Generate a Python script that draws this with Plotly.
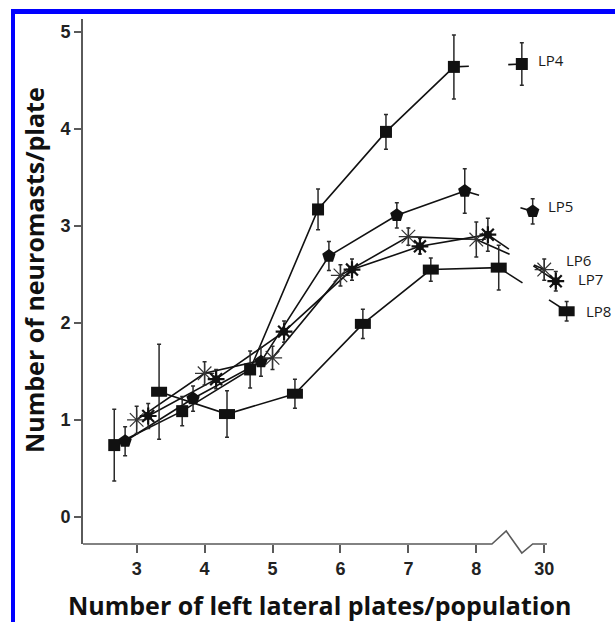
import plotly.graph_objects as go

# Axis categories: plate counts 3..8, with the fully plated "30" group placed at 9
tick_vals = [3, 4, 5, 6, 7, 8, 9]
tick_text = ["3", "4", "5", "6", "7", "8", "30"]

# Mean neuromasts per plate (± error) for each lateral plate position, by population
lp4_x = [2.67, 3.67, 4.67, 5.67, 6.67, 7.67, 8.67]
lp4_y = [0.74, 1.09, 1.52, 3.17, 3.97, 4.64, 4.67]
lp4_err = [0.37, 0.15, 0.19, 0.21, 0.18, 0.33, 0.22]

lp5_x = [2.83, 3.83, 4.83, 5.83, 6.83, 7.83, 8.83]
lp5_y = [0.78, 1.22, 1.60, 2.69, 3.11, 3.36, 3.15]
lp5_err = [0.15, 0.13, 0.15, 0.15, 0.13, 0.23, 0.13]

lp6_x = [3.00, 4.00, 5.00, 6.00, 7.00, 8.00, 9.00]
lp6_y = [1.00, 1.48, 1.64, 2.49, 2.89, 2.86, 2.55]
lp6_err = [0.14, 0.12, 0.12, 0.11, 0.09, 0.18, 0.11]

lp7_x = [3.17, 4.17, 5.17, 6.17, 7.17, 8.17, 9.17]
lp7_y = [1.04, 1.42, 1.91, 2.55, 2.79, 2.91, 2.43]
lp7_err = [0.13, 0.10, 0.11, 0.11, 0.08, 0.17, 0.10]

lp8_x = [3.33, 4.33, 5.33, 6.33, 7.33, 8.33, 9.33]
lp8_y = [1.29, 1.06, 1.27, 1.99, 2.55, 2.57, 2.12]
lp8_err = [0.49, 0.24, 0.15, 0.15, 0.12, 0.23, 0.10]

series_names = ["LP4", "LP5", "LP6", "LP7", "LP8"]

# ---- layout geometry (pixels) ----
W, H = 615, 622
ML, MR, MT, MB = 83, 30, 19, 78
PW, PH = W - ML - MR, H - MT - MB
X_RANGE = [2.21, 9.60]
Y_RANGE = [-0.28, 5.134]


def xpaper_from_px(px):
    return (px - ML) / PW


def ypaper_from_px(py):
    return (H - MB - py) / PH


def xpaper_from_data(v):
    return (v - X_RANGE[0]) / (X_RANGE[1] - X_RANGE[0])


INK = "#111111"
AXIS = "#5a5a5a"

# break-in-line stubs: fraction of the 8 -> 30 segment kept at each end
stub_frac = {"LP4": (0.22, 0.80), "LP5": (0.21, 0.82), "LP6": (0.49, 0.85),
             "LP7": (0.31, 0.67), "LP8": (0.35, 0.74)}

series = {
    "LP4": (lp4_x, lp4_y, lp4_err),
    "LP5": (lp5_x, lp5_y, lp5_err),
    "LP6": (lp6_x, lp6_y, lp6_err),
    "LP7": (lp7_x, lp7_y, lp7_err),
    "LP8": (lp8_x, lp8_y, lp8_err),
}

fig = go.Figure()

# connecting lines (main run plus the broken segment toward the "30" group)
for name in series_names:
    xs, ys, _ = series[name]
    fig.add_trace(go.Scatter(x=xs[:6], y=ys[:6], mode="lines",
                             line=dict(color=INK, width=1.6),
                             hoverinfo="skip", showlegend=False, cliponaxis=False))
    a, b = stub_frac[name]
    x0, y0, x1, y1 = xs[5], ys[5], xs[6], ys[6]
    for f0, f1 in ((0.0, a), (b, 1.0)):
        fig.add_trace(go.Scatter(
            x=[x0 + f0 * (x1 - x0), x0 + f1 * (x1 - x0)],
            y=[y0 + f0 * (y1 - y0), y0 + f1 * (y1 - y0)],
            mode="lines", line=dict(color=INK, width=1.6),
            hoverinfo="skip", showlegend=False, cliponaxis=False))


def err(vals):
    return dict(type="data", array=vals, visible=True, color="#2a2a2a",
                thickness=1.5, width=2)


# LP4: filled squares
fig.add_trace(go.Scatter(x=lp4_x, y=lp4_y, mode="markers", error_y=err(lp4_err),
                         marker=dict(symbol="square", size=12, color=INK),
                         name="LP4", showlegend=False, cliponaxis=False))
# LP5: filled pentagons
fig.add_trace(go.Scatter(x=lp5_x, y=lp5_y, mode="markers", error_y=err(lp5_err),
                         marker=dict(symbol="pentagon", size=14, color=INK),
                         name="LP5", showlegend=False, cliponaxis=False))
# LP6: thin open asterisks
fig.add_trace(go.Scatter(x=lp6_x, y=lp6_y, mode="markers", error_y=err(lp6_err),
                         marker=dict(symbol="asterisk-open", size=16, color="#333333",
                                     line=dict(color="#333333", width=1.2)),
                         name="LP6", showlegend=False, cliponaxis=False))
# LP7: heavy starburst
fig.add_trace(go.Scatter(x=lp7_x, y=lp7_y, mode="markers", error_y=err(lp7_err),
                         marker=dict(symbol="asterisk-open", size=14, color=INK,
                                     line=dict(color=INK, width=2.2)),
                         name="LP7", showlegend=False, cliponaxis=False))
fig.add_trace(go.Scatter(x=lp7_x, y=lp7_y, mode="markers",
                         marker=dict(symbol="circle", size=8, color=INK),
                         hoverinfo="skip", showlegend=False, cliponaxis=False))
# LP8: error bars here, wide rectangles added as pixel-sized shapes below
fig.add_trace(go.Scatter(x=lp8_x, y=lp8_y, mode="markers", error_y=err(lp8_err),
                         marker=dict(symbol="square", size=2, color=INK),
                         name="LP8", showlegend=False, cliponaxis=False))

shapes = []
for xv, yv in zip(lp8_x, lp8_y):
    shapes.append(dict(type="rect", xref="x", yref="y", layer="above",
                       xsizemode="pixel", ysizemode="pixel",
                       xanchor=xv, yanchor=yv, x0=-8, x1=8, y0=-5, y1=5,
                       fillcolor=INK, line=dict(width=0)))

# x axis baseline with the break zig-zag before the "30" group
ax_y = ypaper_from_px(H - MB)
zig = [(X_RANGE[0], ax_y), (8.23, ax_y), (8.44, ypaper_from_px(H - MB - 13)),
       (8.67, ypaper_from_px(H - MB + 9)), (8.83, ax_y), (9.04, ax_y)]
path = "M " + " L ".join(f"{xpaper_from_data(a):.5f},{b:.5f}" for a, b in zig)
shapes.append(dict(type="path", xref="paper", yref="paper", path=path,
                   line=dict(color=AXIS, width=1.6)))

# blue frame along the left and top edges
BLUE = "#0000ff"
shapes.append(dict(type="rect", xref="paper", yref="paper",
                   x0=xpaper_from_px(11), x1=xpaper_from_px(15),
                   y0=ypaper_from_px(H + 5), y1=ypaper_from_px(9),
                   fillcolor=BLUE, line=dict(width=0)))
shapes.append(dict(type="rect", xref="paper", yref="paper",
                   x0=xpaper_from_px(11), x1=xpaper_from_px(W + 5),
                   y0=ypaper_from_px(14), y1=ypaper_from_px(9),
                   fillcolor=BLUE, line=dict(width=0)))

# series labels next to the "30" group
label_shift = {"LP4": (14, 4), "LP5": (13, 5), "LP6": (20, 10),
               "LP7": (20, 2), "LP8": (17, 0)}
annotations = []
for name in series_names:
    xs, ys, _ = series[name]
    dx, dy = label_shift[name]
    annotations.append(dict(x=xs[6], y=ys[6], xref="x", yref="y", text=name,
                            showarrow=False, xanchor="left", yanchor="middle",
                            xshift=dx, yshift=dy,
                            font=dict(family="Open Sans", size=15, color="#1a1a1a")))

TITLE_FONT = dict(family="Open Sans", size=25, color="#111111", weight="bold")
annotations.append(dict(text="Number of left lateral plates/population",
                        xref="paper", yref="paper",
                        x=xpaper_from_px(319), y=ypaper_from_px(605),
                        xanchor="center", yanchor="middle", showarrow=False,
                        font=TITLE_FONT))
annotations.append(dict(text="Number of neuromasts/plate",
                        xref="paper", yref="paper",
                        x=xpaper_from_px(34), y=ypaper_from_px(270),
                        xanchor="center", yanchor="middle", showarrow=False,
                        textangle=-90, font=TITLE_FONT))

TICK_FONT = dict(family="Liberation Sans", size=18, color="#222222", weight="bold")

fig.update_layout(
    width=W, height=H,
    margin=dict(l=ML, r=MR, t=MT, b=MB, pad=0),
    paper_bgcolor="white", plot_bgcolor="white",
    showlegend=False,
    shapes=shapes, annotations=annotations,
    xaxis=dict(range=X_RANGE, tickmode="array", tickvals=tick_vals,
               ticktext=tick_text, showgrid=False, zeroline=False,
               showline=False, ticks="outside", ticklen=8, tickwidth=1.5,
               tickcolor=AXIS, tickfont=TICK_FONT),
    yaxis=dict(range=Y_RANGE, tickmode="array", tickvals=[0, 1, 2, 3, 4, 5],
               showgrid=False, zeroline=False, showline=True, linecolor=AXIS,
               linewidth=1.6, ticks="outside", ticklen=7, tickwidth=1.5,
               tickcolor=AXIS, tickfont=TICK_FONT),
)

fig.write_html("out.html")
